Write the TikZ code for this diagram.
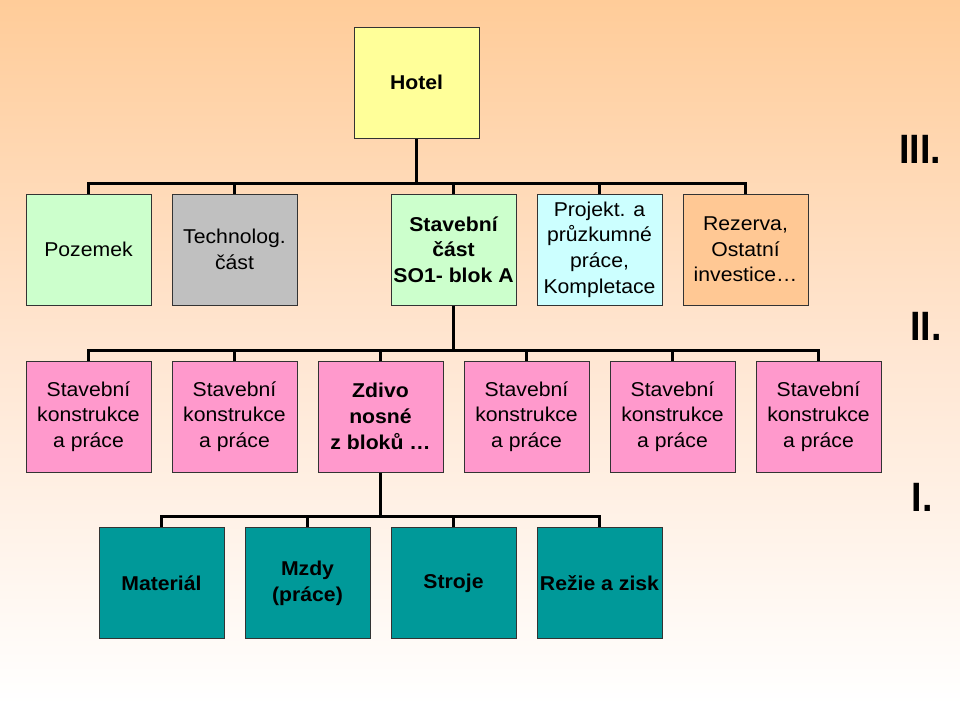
\documentclass[tikz,border=0pt]{standalone}
\usepackage{fontspec}
\setmainfont{Liberation Sans}[FakeStretch=1.06]
\newfontfamily\romanfont{Liberation Sans}[FakeStretch=0.92]
\definecolor{bgtop}{RGB}{255,204,153}
\definecolor{hotelc}{RGB}{255,255,153}
\definecolor{greenc}{RGB}{204,255,204}
\definecolor{grayc}{RGB}{192,192,192}
\definecolor{cyanc}{RGB}{204,255,255}
\definecolor{orangec}{RGB}{255,200,148}
\definecolor{pinkc}{RGB}{255,153,204}
\definecolor{tealc}{RGB}{0,153,153}
\begin{document}
\begin{tikzpicture}[x=1pt,y=-1pt,
  box/.style={draw=black!80,line width=1pt,minimum width=125pt,minimum height=111pt,inner sep=0pt,align=center,font=\fontsize{20}{25.7}\selectfont},
  bbox/.style={box,font=\fontsize{20}{25.7}\selectfont\bfseries},
  conn/.style={line width=3pt,black},
  roman/.style={font=\romanfont\fontsize{41}{41}\selectfont\bfseries,inner sep=0pt}]
\shade[top color=bgtop,bottom color=white,middle color={rgb,255:red,255;green,230;blue,210}] (0,0) rectangle (960,704);
\useasboundingbox (0,0) rectangle (960,704);
% level III
\node[bbox,fill=hotelc] (hotel) at (416.5,82.5) {Hotel};
% level II
\node[box,fill=greenc] (poz) at (88.5,249.5) {Pozemek};
\node[box,fill=grayc] (tech) at (234.5,249.5) {Technolog.\\část};
\node[bbox,fill=greenc] (stav) at (453.5,249.5) {Stavební\\část\\SO1- blok A};
\node[box,fill=cyanc] (proj) at (599.5,249.5) {Projekt. a\\průzkumné\\práce,\\Kompletace};
\node[box,fill=orangec] (rez) at (745.5,249.5) {Rezerva,\\Ostatní\\investice…};
% level I
\node[box,fill=pinkc] (k1) at (88.5,416.5) {Stavební\\konstrukce\\a práce};
\node[box,fill=pinkc] (k2) at (234.5,416.5) {Stavební\\konstrukce\\a práce};
\node[bbox,fill=pinkc] (zd) at (380.5,416.5) {Zdivo\\nosné\\z bloků …};
\node[box,fill=pinkc] (k4) at (526.5,416.5) {Stavební\\konstrukce\\a práce};
\node[box,fill=pinkc] (k5) at (672.5,416.5) {Stavební\\konstrukce\\a práce};
\node[box,fill=pinkc] (k6) at (818.5,416.5) {Stavební\\konstrukce\\a práce};
% level 0
\node[bbox,fill=tealc] (mat) at (161.5,583) {Materiál};
\node[bbox,fill=tealc] (mzd) at (307.5,583) {Mzdy\\(práce)};
\node[bbox,fill=tealc] (str) at (453.5,583) {Stroje};
\node[bbox,fill=tealc] (rez2) at (599.5,583) {Režie a zisk};
% connectors III -> II
\coordinate (b1) at (416.5,183);
\draw[conn] (hotel.south) -- (b1);
\draw[conn] (poz.north) |- (b1) -| (rez.north);
\foreach \n in {tech,stav,proj}{\draw[conn] (\n.north) -- (\n.north |- b1);}
% II -> I
\coordinate (b2) at (453.5,350);
\draw[conn] (stav.south) -- (b2);
\draw[conn] (k1.north) |- (b2) -| (k6.north);
\foreach \n in {k2,zd,k4,k5}{\draw[conn] (\n.north) -- (\n.north |- b2);}
% I -> 0
\coordinate (b3) at (380.5,516);
\draw[conn] (zd.south) -- (b3);
\draw[conn] (mat.north) |- (b3) -| (rez2.north);
\foreach \n in {mzd,str}{\draw[conn] (\n.north) -- (\n.north |- b3);}
% roman labels
\node[roman] (r3) at (920,149) {III.};
\node[roman] (r2) at (926,326) {II.};
\node[roman] (r1) at (922,497) {I.};
\end{tikzpicture}
\end{document}
